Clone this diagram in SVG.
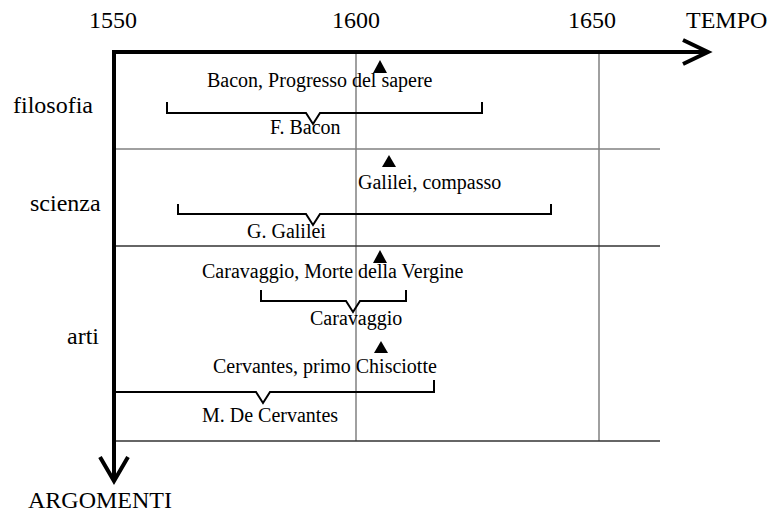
<svg xmlns="http://www.w3.org/2000/svg" width="768" height="512" viewBox="0 0 768 512">
  <style>
    text { font-family: "Liberation Serif", "Times New Roman", serif; fill: #000; }
    .axis-label { font-size: 24px; }
    .label { font-size: 20px; }
    .axis { stroke: #000; stroke-width: 4; fill: none; }
    .head { stroke: #000; stroke-width: 4; fill: none; stroke-linejoin: miter; }
    .grid { stroke: #808080; stroke-width: 1.5; fill: none; }
    .row { stroke: #333; stroke-width: 1.3; fill: none; }
    .bracket { stroke: #000; stroke-width: 2; fill: none; }
    .mark { fill: #000; }
  </style>
  <rect width="768" height="512" fill="#fff"/>

  <!-- grid -->
  <g id="grid">
    <line class="grid" x1="356" y1="52" x2="356" y2="441"/>
    <line class="grid" x1="599" y1="52" x2="599" y2="441"/>
    <line class="grid" x1="114" y1="149" x2="660" y2="149"/>
    <line class="row" x1="114" y1="246" x2="660" y2="246"/>
    <line class="row" x1="114" y1="441" x2="660" y2="441"/>
  </g>

  <!-- axes -->
  <g id="axes">
    <line class="axis" x1="112" y1="52" x2="708" y2="52"/>
    <polyline class="head" points="683,40 708,52 683,64"/>
    <line class="axis" x1="114" y1="50" x2="114" y2="481"/>
    <polyline class="head" points="100,457 114,481 128,457"/>
    <text class="axis-label" x="113" y="28" text-anchor="middle">1550</text>
    <text class="axis-label" x="356" y="28" text-anchor="middle">1600</text>
    <text class="axis-label" x="592" y="28" text-anchor="middle">1650</text>
    <text class="axis-label" x="686" y="28">TEMPO</text>
    <text class="axis-label" x="28" y="508">ARGOMENTI</text>
  </g>

  <!-- row labels -->
  <g id="rows">
    <text class="axis-label" x="13" y="113">filosofia</text>
    <text class="axis-label" x="30" y="211">scienza</text>
    <text class="axis-label" x="67" y="344">arti</text>
  </g>

  <!-- filosofia -->
  <g id="bacon">
    <polygon class="mark" points="380,60 373,73 387,73"/>
    <text class="label" x="207" y="87">Bacon, Progresso del sapere</text>
    <polyline class="bracket" points="167,102 167,113 306,113 313,124 320,113 482,113 482,102"/>
    <text class="label" x="270" y="134">F. Bacon</text>
  </g>

  <!-- scienza -->
  <g id="galilei">
    <polygon class="mark" points="389,155 382,167 396,167"/>
    <text class="label" x="358" y="189">Galilei, compasso</text>
    <polyline class="bracket" points="178,204 178,214 306,214 313,225 320,214 551,214 551,204"/>
    <text class="label" x="247" y="238">G. Galilei</text>
  </g>

  <!-- arti -->
  <g id="caravaggio">
    <polygon class="mark" points="380,250 373,263 387,263"/>
    <text class="label" x="202" y="278">Caravaggio, Morte della Vergine</text>
    <polyline class="bracket" points="261,290 261,301 346,301 353,312 360,301 406,301 406,290"/>
    <text class="label" x="310" y="325">Caravaggio</text>
  </g>

  <g id="cervantes">
    <polygon class="mark" points="381,341 374,353 388,353"/>
    <text class="label" x="213" y="373">Cervantes, primo Chisciotte</text>
    <polyline class="bracket" points="114,392 256,392 263,403 270,392 434,392 434,380"/>
    <text class="label" x="202" y="422">M. De Cervantes</text>
  </g>
</svg>
